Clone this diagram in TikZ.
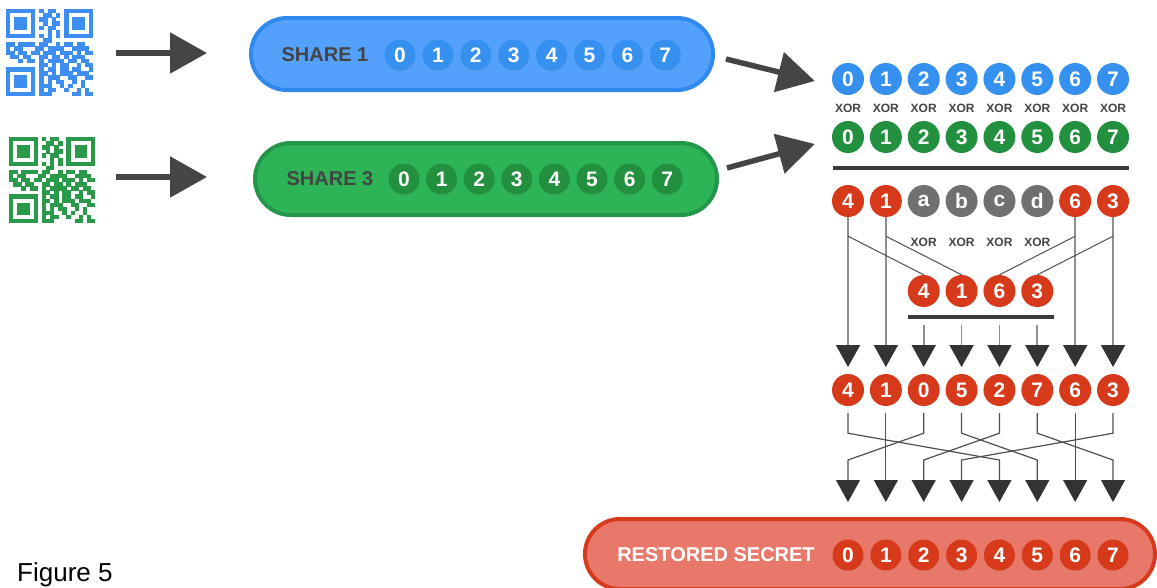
\documentclass[tikz,border=0pt]{standalone}
\usepackage{fontspec}
\setmainfont{Liberation Sans}
\usetikzlibrary{arrows.meta,shapes.misc,shadows}

\definecolor{qrblue}{HTML}{3D8EF0}
\definecolor{qrgreen}{HTML}{2A9A4A}
\definecolor{arrowgray}{HTML}{454545}
\definecolor{blueFill}{HTML}{53A1FB}
\definecolor{blueEdge}{HTML}{2F89EF}
\definecolor{blueDot}{HTML}{3590F0}
\definecolor{greenFill}{HTML}{2DB456}
\definecolor{greenEdge}{HTML}{24964A}
\definecolor{greenDot}{HTML}{22903F}
\definecolor{redDot}{HTML}{D63A1B}
\definecolor{redFill}{HTML}{E8796A}
\definecolor{grayDot}{HTML}{707070}
\definecolor{labelGray}{HTML}{444444}
\definecolor{wireLight}{HTML}{8E8E8E}
\definecolor{wireDark}{HTML}{505050}
\definecolor{barDark}{HTML}{3A3A3A}
\definecolor{tipDark}{HTML}{333333}

% 21x21 module code drawn at (#2,#3) with module size #4 in colour #1
\newcommand\qrpattern[4]{%
  \foreach \qrow [count=\qi from 0] in {%
    {1,1,1,1,1,1,1,0,1,0,1,1,0,0,1,1,1,1,1,1,1},
    {1,0,0,0,0,0,1,0,0,1,1,0,1,0,1,0,0,0,0,0,1},
    {1,0,1,1,1,0,1,0,1,1,0,1,0,0,1,0,1,1,1,0,1},
    {1,0,1,1,1,0,1,0,0,1,0,1,1,0,1,0,1,1,1,0,1},
    {1,0,1,1,1,0,1,0,1,0,1,1,0,0,1,0,1,1,1,0,1},
    {1,0,0,0,0,0,1,0,0,0,1,0,1,0,1,0,0,0,0,0,1},
    {1,1,1,1,1,1,1,0,1,0,1,0,1,0,1,1,1,1,1,1,1},
    {0,0,0,0,0,0,0,0,0,1,1,0,0,0,0,0,0,0,0,0,0},
    {1,1,0,1,1,1,1,0,1,1,0,0,1,0,1,1,0,1,1,0,0},
    {1,0,1,1,0,0,0,1,1,0,1,1,1,1,0,0,1,1,1,1,0},
    {1,1,0,1,1,0,1,1,0,1,1,1,0,1,1,1,0,1,0,1,1},
    {0,1,1,0,1,1,0,0,1,1,0,1,1,0,1,0,1,1,1,0,0},
    {0,0,0,1,0,1,1,0,1,0,1,1,1,1,0,1,1,0,1,1,0},
    {0,0,0,0,0,0,0,0,1,1,0,1,0,1,1,0,0,1,0,1,1},
    {1,1,1,1,1,1,1,0,1,0,1,1,0,1,1,0,1,1,0,0,1},
    {1,0,0,0,0,0,1,0,1,1,0,1,0,1,1,1,0,1,1,1,0},
    {1,0,1,1,1,0,1,0,1,0,1,1,1,0,0,1,1,0,0,1,1},
    {1,0,1,1,1,0,1,0,1,0,1,0,1,1,0,0,1,0,1,0,0},
    {1,0,1,1,1,0,1,0,1,1,1,0,0,1,0,1,0,0,1,0,0},
    {1,0,0,0,0,0,1,0,1,0,1,1,0,0,1,0,0,1,0,1,0},
    {1,1,1,1,1,1,1,0,1,1,1,0,0,0,0,0,1,1,0,1,1}} {%
    \foreach \qbit [count=\qj from 0] in \qrow {%
      \ifnum\qbit=1
        \fill[#1] ({#2+\qj*#4},{#3+\qi*#4}) rectangle ++({#4+0.3},{#4+0.3});
      \fi
    }
  }%
}

\begin{document}
\begin{tikzpicture}[x=1pt,y=-1pt,
  numdot/.style={circle, minimum size=32pt, inner sep=0pt, text=white,
    font=\bfseries\fontsize{21pt}{21pt}\selectfont},
  pilldot/.style={numdot, minimum size=31pt,
    circular drop shadow={shadow xshift=0pt, shadow yshift=-1pt, opacity=0.2, shadow scale=1.03}},
  xorlbl/.style={inner sep=0pt, text=labelGray, font=\bfseries\fontsize{12pt}{12pt}\selectfont},
  pill/.style={rounded rectangle, line width=4pt, inner sep=0pt},
  pilltext/.style={inner sep=0pt, font=\bfseries\fontsize{20pt}{20pt}\selectfont},
  bigarrow/.style={draw=arrowgray, line width=5.5pt, -{Triangle[length=37pt,width=40pt]}},
  wireL/.style={draw=wireLight, line width=1.8pt},
  wireD/.style={draw=wireDark, line width=1pt},
  wireB/.style={draw=wireDark, line width=1.2pt},
  downtip/.style={-{Triangle[length=22pt,width=24pt,color=tipDark]}},
  sepbar/.style={draw=barDark, line width=4pt},
]
\fill[white] (0,0) rectangle (1157,587);
\useasboundingbox (0,0) rectangle (1157,587);

% code images
\qrpattern{qrblue}{6}{9}{4.15}
\qrpattern{qrgreen}{9}{137}{4.1}

\coordinate (qa1) at (116,53);
\coordinate (qb1) at (207,53);
\coordinate (qa2) at (116,177);
\coordinate (qb2) at (207,177);
\draw[bigarrow] (qa1) -- (qb1);
\draw[bigarrow] (qa2) -- (qb2);

% share 1
\node[pill, fill=blueFill, draw=blueEdge, minimum width=462pt, minimum height=72pt] (share1) at (482,54) {};
\node[pilltext, text=labelGray] (share1lbl) at (325,55) {SHARE 1};
\foreach \k in {0,...,7}
  \node[pilldot, fill=blueDot] (sa\k) at ({400+37.9*\k},55) {\k};

% share 3
\node[pill, fill=greenFill, draw=greenEdge, minimum width=462pt, minimum height=72pt] (share3) at (486,179) {};
\node[pilltext, text=labelGray] (share3lbl) at (330,179) {SHARE 3};
\foreach \k in {0,...,7}
  \node[pilldot, fill=greenDot] (sb\k) at ({404+37.6*\k},179) {\k};

% byte rows of the two shares
\foreach \k in {0,...,7} {
  \node[numdot, fill=blueDot] (b\k) at ({848+37.86*\k},79) {\k};
  \node[xorlbl] (x\k) at ({848+37.86*\k},108) {XOR};
  \node[numdot, fill=greenDot] (g\k) at ({848+37.86*\k},137) {\k};
}
\draw[sepbar] (833,168) -- (1129,168);

\draw[bigarrow] ([xshift=11pt,yshift=-5pt]share1.east) -- ([xshift=-17pt,yshift=-2pt]b0.west);
\draw[bigarrow] ([xshift=8pt,yshift=11pt]share3.east) -- ([xshift=-17pt,yshift=-7pt]g0.west);

% xor result
\foreach \lab/\col [count=\k from 0] in {4/redDot,1/redDot,a/grayDot,b/grayDot,c/grayDot,d/grayDot,6/redDot,3/redDot}
  \node[numdot, fill=\col] (r\k) at ({848+37.86*\k},201) {\lab};
\foreach \k in {2,...,5}
  \node[xorlbl] (y\k) at ({848+37.86*\k},242) {XOR};
\foreach \lab [count=\j from 0] in {4,1,6,3}
  \node[numdot, fill=redDot] (m\j) at ({848+37.86*(\j+2)},291) {\lab};
\draw[sepbar] (908,317) -- (1054,317);

% arrow tips above the permuted row and above the restored secret
\foreach \k in {0,...,7} {
  \coordinate (u\k) at ({848+37.86*\k},367);
  \coordinate (v\k) at ({848+37.86*\k},502);
}
\foreach \k in {0,1,6,7}
  \draw[wireL, downtip] (r\k.south) -- (u\k);
\foreach \j/\k in {0/2,1/3,2/4,3/5}
  \draw[wireL, downtip] ([yshift=-18pt]m\j.south) -- (u\k);
\foreach \a/\b in {0/0,1/1,6/2,7/3}
  \draw[wireD] ([yshift=-19pt]r\a.south) -- (m\b.north);

% permuted row
\foreach \lab [count=\k from 0] in {4,1,0,5,2,7,6,3}
  \node[numdot, fill=redDot] (p\k) at ({848+37.86*\k},390) {\lab};
\foreach \k/\t in {0/4,2/0,3/5,4/2,5/7,7/3}
  \draw[wireB, downtip] ([yshift=-7pt]p\k.south) -- ++(0,20) -- ({848+37.86*\t},460) -- (v\t);
\foreach \k in {1,6}
  \draw[wireB, downtip] ([yshift=-7pt]p\k.south) -- (v\k);

% restored secret
\node[pill, fill=redFill, draw=redDot, minimum width=570pt, minimum height=70pt] (secret) at (870,554) {};
\node[pilltext, text=white] (secretlbl) at (716,555) {RESTORED SECRET};
\foreach \k in {0,...,7}
  \node[pilldot, fill=redDot] (s\k) at ({848+37.86*\k},555) {\k};

\node[anchor=base west, inner sep=0pt, font=\fontsize{26pt}{26pt}\selectfont] (fig) at (17,581) {Figure 5};
\end{tikzpicture}
\end{document}
